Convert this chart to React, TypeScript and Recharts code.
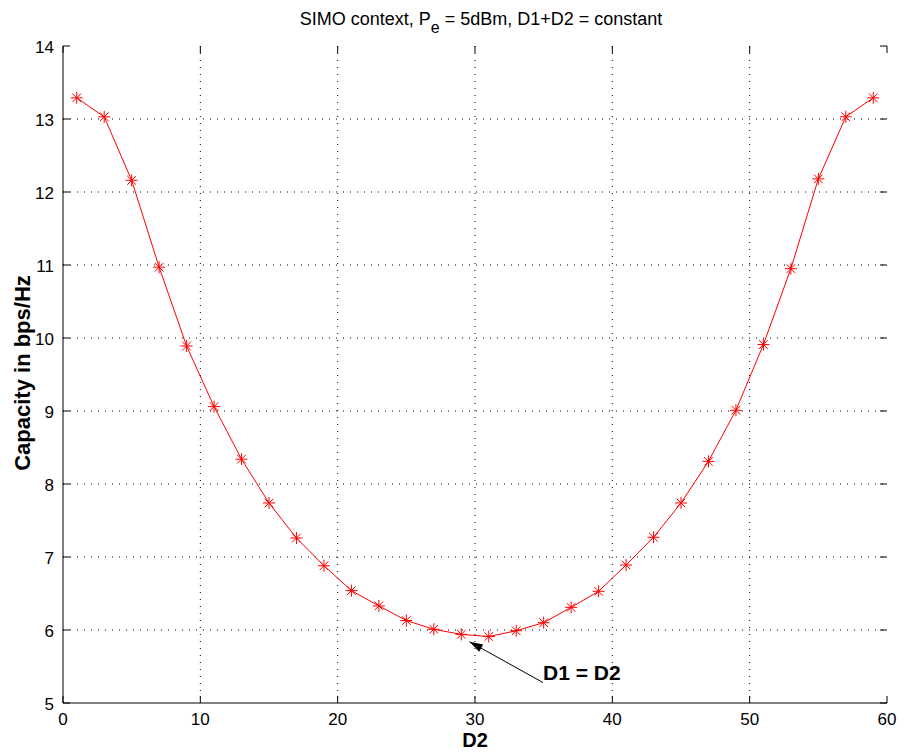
import React from 'react';
import {
  LineChart,
  Line,
  XAxis,
  YAxis,
  CartesianGrid,
  ReferenceLine,
} from 'recharts';

// D2 positions and capacity values
const d2Values = [1, 3, 5, 7, 9, 11, 13, 15, 17, 19, 21, 23, 25, 27, 29, 31, 33, 35, 37, 39, 41, 43, 45, 47, 49, 51, 53, 55, 57, 59];
const capacity = [
  13.29, 13.03, 12.16, 10.97, 9.89, 9.06, 8.34, 7.74, 7.26, 6.88,
  6.54, 6.33, 6.13, 6.01, 5.94, 5.91, 5.99, 6.1, 6.31, 6.53,
  6.89, 7.27, 7.74, 8.31, 9.01, 9.91, 10.95, 12.18, 13.03, 13.29,
];
const xTicks = [0, 10, 20, 30, 40, 50, 60];
const yTicks = [5, 6, 7, 8, 9, 10, 11, 12, 13, 14];
// annotation arrow: tail (near label) -> head (pointing at the minimum)
const arrowFrom = { x: 34.95, y: 5.28 };
const arrowTo = { x: 29.6, y: 5.84 };

const data = d2Values.map((d, i) => ({ d2: d, cap: capacity[i] }));

const W = 906;
const H = 753;
const LEFT = 63;
const RIGHT = 887;
const TOP = 46;
const BOTTOM = 703;
const FONT = 'Liberation Sans, Arial, sans-serif';

const XTick = (props: any) => {
  const { x, payload } = props;
  return (
    <g>
      <line x1={x} x2={x} y1={BOTTOM} y2={BOTTOM - 7} stroke="#000" />
      <line x1={x} x2={x} y1={TOP} y2={TOP + 7} stroke="#000" />
      <text x={x} y={BOTTOM + 22} textAnchor="middle" fontSize={17} fontFamily={FONT} fill="#000">
        {payload.value}
      </text>
    </g>
  );
};

const YTick = (props: any) => {
  const { y, payload } = props;
  return (
    <g>
      <line x1={LEFT} x2={LEFT + 7} y1={y} y2={y} stroke="#000" />
      <line x1={RIGHT} x2={RIGHT - 7} y1={y} y2={y} stroke="#000" />
      <text x={LEFT - 9} y={y + 7} textAnchor="end" fontSize={17} fontFamily={FONT} fill="#000">
        {payload.value}
      </text>
    </g>
  );
};

const StarDot = (props: any) => {
  const { cx, cy } = props;
  if (cx == null || cy == null) return null;
  const r = 6;
  const d = r * 0.72;
  return (
    <g stroke="#ff0000" strokeWidth={1}>
      <line x1={cx - r} x2={cx + r} y1={cy} y2={cy} />
      <line x1={cx} x2={cx} y1={cy - r} y2={cy + r} />
      <line x1={cx - d} x2={cx + d} y1={cy - d} y2={cy + d} />
      <line x1={cx - d} x2={cx + d} y1={cy + d} y2={cy - d} />
    </g>
  );
};

const ArrowShape = (props: any) => {
  const { x1, y1, x2, y2 } = props;
  if (x1 == null) return null;
  const ang = Math.atan2(y2 - y1, x2 - x1);
  const len = 14;
  const spread = 0.3;
  const p1x = x2 - len * Math.cos(ang - spread);
  const p1y = y2 - len * Math.sin(ang - spread);
  const p2x = x2 - len * Math.cos(ang + spread);
  const p2y = y2 - len * Math.sin(ang + spread);
  return (
    <g>
      <line x1={x1} y1={y1} x2={x2} y2={y2} stroke="#000" strokeWidth={1} />
      <polygon points={`${x2},${y2} ${p1x},${p1y} ${p2x},${p2y}`} fill="#000" />
      <text x={x1} y={y1 - 3} fontSize={21} fontWeight="bold" fontFamily={FONT} fill="#000">
        D1 = D2
      </text>
    </g>
  );
};

export default function App() {
  return (
    <div style={{ position: 'absolute', left: 0, top: 0, width: W, height: H, background: '#fff' }}>
      <LineChart
        width={W}
        height={H}
        data={data}
        margin={{ top: TOP, right: W - RIGHT, bottom: 0, left: LEFT - 40 }}
        style={{ position: 'absolute', left: 0, top: 0 }}
      >
        <CartesianGrid
          stroke="#000"
          strokeDasharray="1 6"
          horizontalValues={[6, 7, 8, 9, 10, 11, 12, 13]}
          verticalValues={[10, 20, 30, 40, 50]}
        />
        <XAxis
          dataKey="d2"
          type="number"
          domain={[0, 60]}
          ticks={xTicks}
          height={H - BOTTOM}
          tickLine={false}
          axisLine={{ stroke: '#000' }}
          tick={<XTick />}
          label={{ value: 'D2', position: 'insideBottom', offset: 6, fontSize: 20, fontWeight: 'bold', fill: '#000', fontFamily: FONT }}
        />
        <XAxis xAxisId="top" orientation="top" type="number" domain={[0, 60]} height={0} tick={false} tickLine={false} axisLine={{ stroke: '#000' }} />
        <YAxis
          type="number"
          domain={[5, 14]}
          ticks={yTicks}
          width={40}
          tickLine={false}
          axisLine={{ stroke: '#000' }}
          tick={<YTick />}
        />
        <YAxis yAxisId="right" orientation="right" type="number" domain={[5, 14]} width={0} tick={false} tickLine={false} axisLine={{ stroke: '#000' }} />
        <ReferenceLine
          segment={[arrowFrom, arrowTo]}
          ifOverflow="visible"
          shape={<ArrowShape />}
        />
        <Line
          dataKey="cap"
          stroke="#ff0000"
          strokeWidth={1}
          dot={<StarDot />}
          activeDot={false}
          isAnimationActive={false}
        />
      </LineChart>
      <svg width={W} height={40} style={{ position: 'absolute', left: 0, top: 0 }}>
        <text x={481} y={25} textAnchor="middle" fontSize={18} fontFamily={FONT} fill="#000">
          SIMO context, P
          <tspan dy={8} fontSize={16}>e</tspan>
          <tspan dy={-8}> = 5dBm, D1+D2 = constant</tspan>
        </text>
      </svg>
      <div
        style={{
          position: 'absolute',
          left: 23,
          top: 373,
          transform: 'translate(-50%, -50%) rotate(-90deg)',
          whiteSpace: 'nowrap',
          fontFamily: FONT,
          fontSize: 22,
          fontWeight: 'bold',
        }}
      >
        Capacity in bps/Hz
      </div>
    </div>
  );
}
